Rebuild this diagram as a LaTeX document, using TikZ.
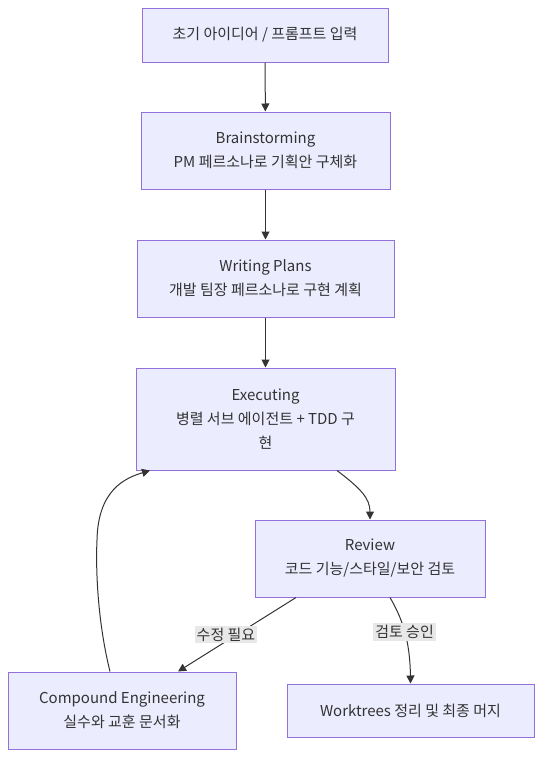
\documentclass[tikz,border=0pt]{standalone}
\usepackage{fontspec}
\setmainfont{Noto Sans CJK KR}
\usetikzlibrary{arrows.meta,calc}
\definecolor{boxfill}{HTML}{ECECFF}
\definecolor{boxline}{HTML}{9370DB}
\definecolor{txt}{HTML}{333333}
\definecolor{lblfill}{HTML}{E8E8E8}
\tikzset{
  box/.style={draw=boxline, fill=boxfill, line width=1pt, text=txt, align=center, inner sep=0pt, font=\fontsize{15}{24}\selectfont},
  arr/.style={draw=txt, line width=1pt, -{Triangle[length=8pt,width=8pt]}},
  lbl/.style={fill=lblfill, text=txt, inner sep=2pt, font=\fontsize{15}{18}\selectfont}
}

\begin{document}
\begin{tikzpicture}[x=1pt,y=-1pt]
                \useasboundingbox (0,0) rectangle (542,758);
                \node[box, minimum width=246pt, minimum height=54pt] (idea) at (265,35) {초기 아이디어 / 프롬프트 입력};
                \node[box, minimum width=249pt, minimum height=77pt] (brain) at (265.5,150.5) {Brainstorming\\PM 페르소나로 기획안 구체화};
                \node[box, minimum width=257pt, minimum height=77pt] (plans) at (265.5,278.5) {Writing Plans\\개발 팀장 페르소나로 구현 계획};
                \node[box, minimum width=259pt, minimum height=102pt] (exec) at (265.5,419) {Executing\\병렬 서브 에이전트 + TDD 구\\현};
                \node[box, minimum width=230pt, minimum height=77pt] (review) at (370,558.5) {Review\\코드 기능/스타일/보안 검토};
                \node[box, minimum width=228pt, minimum height=77pt] (comp) at (122,710.5) {Compound Engineering\\실수와 교훈 문서화};
                \node[box, minimum width=247pt, minimum height=53pt] (work) at (410.5,710.5) {Worktrees 정리 및 최종 머지};
                % flow
                \draw[arr] (idea) -- (brain);
                \draw[arr] (brain) -- (plans);
                \draw[arr] (plans) -- (exec);
                \draw[arr] ($(exec.south)+(71.5,0)$) .. controls (360,488) and (370,498) .. (review.north);
                \draw[arr] ($(review.south)+(-74,0)$) -- node[lbl, xshift=-11pt]{수정 필요} ($(comp.north)+(56,0)$);
                \draw[arr] ($(review.south)+(20,0)$) .. controls (402,618) and (410,640) .. node[lbl, pos=0.5]{검토 승인} (work.north);
                \draw[arr] ($(comp.north)+(-12,0)$) .. controls (96,615) and (96,560) .. (97,540) .. controls (98,490) and (125,478) .. ($(exec.south)+(-115.5,0)$);
            \end{tikzpicture}
\end{document}
